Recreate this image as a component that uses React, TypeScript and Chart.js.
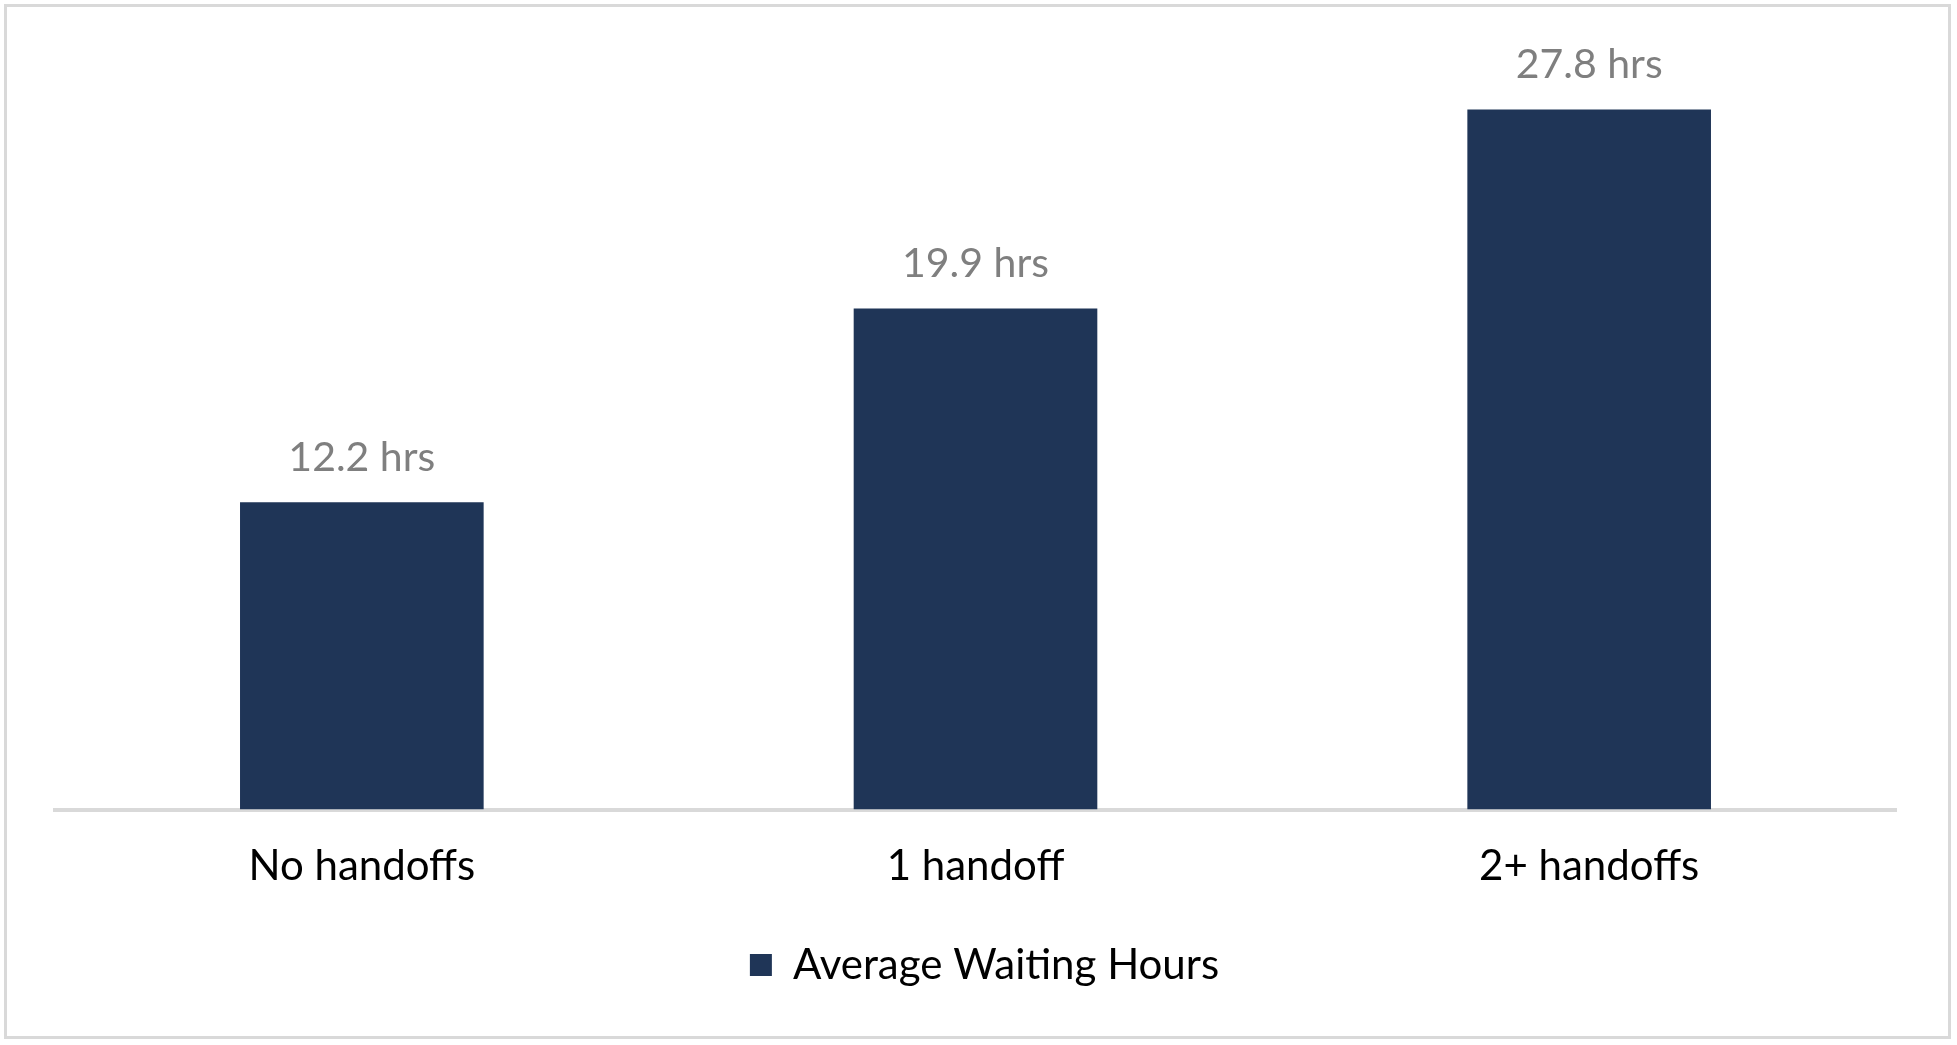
import Chart from 'chart.js/auto'
import { useEffect, useRef } from 'react'

const categories = ['No handoffs', '1 handoff', '2+ handoffs']
const waitingHours = [12.2, 19.9, 27.8]
const seriesName = 'Average Waiting Hours'
const yMax = 30

const FONT = 'Lato'

const valueLabels = {
  id: 'valueLabels',
  afterDatasetsDraw(chart: Chart) {
    const { ctx } = chart
    const meta = chart.getDatasetMeta(0)
    ctx.save()
    ctx.font = `41px ${FONT}`
    ctx.fillStyle = '#7f7f7f'
    ctx.textAlign = 'center'
    ctx.textBaseline = 'alphabetic'
    meta.data.forEach((bar: any, i: number) => {
      const v = chart.data.datasets[0].data[i] as number
      ctx.fillText(`${v.toFixed(1)} hrs`, bar.x, bar.y - 31)
    })
    ctx.restore()
  },
}

const WaitChart = (): JSX.Element => {
  const canvasRef = useRef<HTMLCanvasElement | null>(null)
  const chartRef = useRef<Chart<'bar', number[], string> | null>(null)

  useEffect(() => {
    if (!canvasRef.current) return

    chartRef.current = new Chart(canvasRef.current, {
      type: 'bar',
      data: {
        labels: categories,
        datasets: [
          {
            label: seriesName,
            data: waitingHours,
            backgroundColor: '#1f3557',
            borderWidth: 0,
            categoryPercentage: 1,
            barPercentage: 0.397,
          },
        ],
      },
      options: {
        animation: false,
        responsive: true,
        maintainAspectRatio: false,
        layout: {
          padding: { left: 55, right: 43, top: 54, bottom: 49 },
        },
        scales: {
          x: {
            grid: { display: false, drawTicks: false },
            border: { display: true, color: '#d9d9d9', width: 4 },
            ticks: {
              color: '#000000',
              font: { family: FONT, size: 42 },
              padding: 32,
            },
          },
          y: {
            position: 'right',
            min: 0,
            max: yMax,
            grid: { display: false, drawTicks: false },
            border: { display: false },
            ticks: { display: false },
            // keeps the plot area where it is while the legend sits a bit right of centre
            afterFit: (scale: any) => {
              scale.width = 18
            },
          },
        },
        plugins: {
          legend: {
            position: 'bottom',
            labels: {
              color: '#000000',
              font: { family: FONT, size: 42 },
              boxWidth: 22,
              boxHeight: 22,
              padding: 20,
            },
          },
          tooltip: { enabled: false },
        },
      },
      plugins: [valueLabels],
    })

    return () => {
      chartRef.current?.destroy()
    }
  }, [])

  return (
    <div style={{ position: 'absolute', left: 0, top: 0, width: 1957, height: 1045, background: '#ffffff' }}>
      <canvas ref={canvasRef} />
      <div
        style={{
          position: 'absolute',
          left: 4,
          top: 4,
          width: 1947,
          height: 1035,
          border: '3px solid #d9d9d9',
          boxSizing: 'border-box',
          pointerEvents: 'none',
        }}
      />
    </div>
  )
}

export default function App(): JSX.Element {
  return <WaitChart />
}
